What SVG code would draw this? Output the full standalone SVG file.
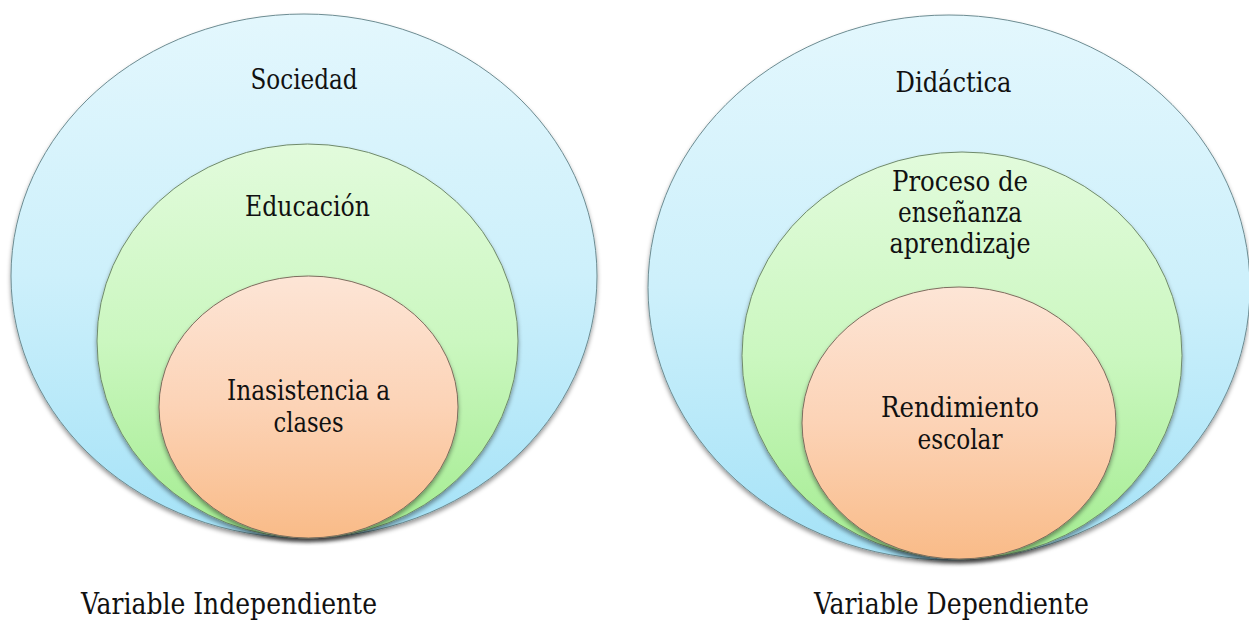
<svg xmlns="http://www.w3.org/2000/svg" width="1249" height="621" viewBox="0 0 1249 621">
  <style>
    text { font-family: "DejaVu Serif Condensed", "DejaVu Serif", "Liberation Serif", serif; fill: #111; }
    .lbl { font-size: 28px; text-anchor: middle; }
    .cap { font-size: 29px; }
    .blue { fill: url(#gBlue); stroke: #6d8c92; stroke-width: 1; filter: url(#sh); }
    .green { fill: url(#gGreen); stroke: #6f8a6c; stroke-width: 1; filter: url(#sh); }
    .orange { fill: url(#gOrange); stroke: #7d6d5e; stroke-width: 1; filter: url(#sh); }
  </style>
  <defs>
    <linearGradient id="gBlue" x1="0" y1="0" x2="0" y2="1">
      <stop offset="0" stop-color="#e3f7fd"/>
      <stop offset="0.5" stop-color="#cdf0fb"/>
      <stop offset="1" stop-color="#a4e2f7"/>
    </linearGradient>
    <linearGradient id="gGreen" x1="0" y1="0" x2="0" y2="1">
      <stop offset="0" stop-color="#e2fbdc"/>
      <stop offset="0.5" stop-color="#cbf7c0"/>
      <stop offset="1" stop-color="#a3ec90"/>
    </linearGradient>
    <linearGradient id="gOrange" x1="0" y1="0" x2="0" y2="1">
      <stop offset="0" stop-color="#fde5d6"/>
      <stop offset="0.5" stop-color="#fcd3b6"/>
      <stop offset="1" stop-color="#f9bb88"/>
    </linearGradient>
    <filter id="sh" x="-10%" y="-10%" width="120%" height="125%">
      <feDropShadow dx="0" dy="3" stdDeviation="2" flood-color="#000" flood-opacity="0.4"/>
    </filter>
  </defs>

  <g id="left-diagram">
    <g id="sociedad">
      <ellipse class="blue" cx="304" cy="276" rx="293" ry="262"/>
      <text class="lbl" x="304" y="89" textLength="107" lengthAdjust="spacingAndGlyphs">Sociedad</text>
    </g>
    <g id="educacion">
      <ellipse class="green" cx="307.5" cy="341" rx="210.5" ry="197"/>
      <text class="lbl" x="307.5" y="216" textLength="125" lengthAdjust="spacingAndGlyphs">Educación</text>
    </g>
    <g id="inasistencia">
      <ellipse class="orange" cx="308.5" cy="407" rx="149.5" ry="131"/>
      <text class="lbl" x="308.5" y="400" textLength="163" lengthAdjust="spacingAndGlyphs">Inasistencia a</text>
      <text class="lbl" x="308.5" y="432" textLength="70" lengthAdjust="spacingAndGlyphs">clases</text>
    </g>
  </g>

  <g id="right-diagram">
    <g id="didactica">
      <ellipse class="blue" cx="949" cy="287.5" rx="301" ry="272.5"/>
      <text class="lbl" x="953.5" y="92" textLength="116" lengthAdjust="spacingAndGlyphs">Didáctica</text>
    </g>
    <g id="proceso">
      <ellipse class="green" cx="962" cy="355.5" rx="220" ry="203.5"/>
      <text class="lbl" x="960" y="191" textLength="136" lengthAdjust="spacingAndGlyphs">Proceso de</text>
      <text class="lbl" x="960" y="222" textLength="124" lengthAdjust="spacingAndGlyphs">enseñanza</text>
      <text class="lbl" x="960" y="253" textLength="141" lengthAdjust="spacingAndGlyphs">aprendizaje</text>
    </g>
    <g id="rendimiento">
      <ellipse class="orange" cx="959" cy="423" rx="157" ry="136"/>
      <text class="lbl" x="960" y="417" textLength="158" lengthAdjust="spacingAndGlyphs">Rendimiento</text>
      <text class="lbl" x="960" y="449" textLength="85" lengthAdjust="spacingAndGlyphs">escolar</text>
    </g>
  </g>

  <g id="connectors"/>

  <text id="cap-left" class="cap" x="81" y="614" textLength="296" lengthAdjust="spacingAndGlyphs">Variable Independiente</text>
  <text id="cap-right" class="cap" x="814" y="614" textLength="275" lengthAdjust="spacingAndGlyphs">Variable Dependiente</text>
</svg>
